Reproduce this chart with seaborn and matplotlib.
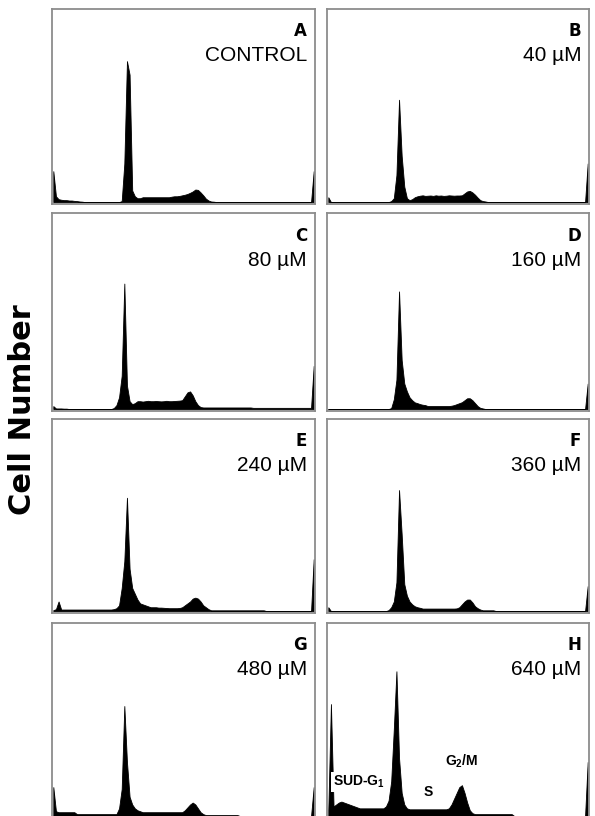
import numpy as np
import pandas as pd
import matplotlib
matplotlib.use('Agg')
import matplotlib.pyplot as plt
import seaborn as sns

# DNA content histograms (channel 0-99), heights in % of panel height
channels = np.arange(100) + 0.5

a_counts = [16, 3, 1.5, 1.2, 1, 1, 0.8, 0.8, 0.6, 0.5,
            0.3, 0.2, 0, 0, 0, 0, 0, 0, 0, 0,
            0, 0, 0, 0, 0, 0, 0.5, 20, 73, 66,
            6, 3, 2, 2, 2.5, 2.5, 2.5, 2.5, 2.5, 2.5,
            2.5, 2.5, 2.5, 2.5, 2.5, 2.8, 3, 3, 3.2, 3.5,
            3.8, 4.2, 4.8, 5.5, 6.5, 6.3, 5, 3.5, 1.8, 0.8,
            0.3, 0.2, 0, 0, 0, 0, 0, 0, 0, 0,
            0, 0, 0, 0, 0, 0, 0, 0, 0, 0,
            0, 0, 0, 0, 0, 0, 0, 0, 0, 0,
            0, 0, 0, 0, 0, 0, 0, 0, 0, 16]

b_counts = [2.5, 0, 0, 0, 0, 0, 0, 0, 0, 0,
            0, 0, 0, 0, 0, 0, 0, 0, 0, 0,
            0, 0, 0, 0, 0.5, 2, 14, 53, 24, 8,
            2, 1, 1.5, 2.5, 3, 3.3, 3.5, 3.2, 3.3, 3.4,
            3.2, 3.5, 3.3, 3.4, 3.2, 3.3, 3.5, 3.4, 3.3, 3.4,
            3.4, 3.5, 4.5, 5.5, 5.8, 5, 3.8, 2.3, 1, 0.5,
            0.3, 0, 0, 0, 0, 0, 0, 0, 0, 0,
            0, 0, 0, 0, 0, 0, 0, 0, 0, 0,
            0, 0, 0, 0, 0, 0, 0, 0, 0, 0,
            0, 0, 0, 0, 0, 0, 0, 0, 0, 20]

c_counts = [1.5, 0.3, 0.3, 0.3, 0.2, 0.2, 0, 0, 0, 0,
            0, 0, 0, 0, 0, 0, 0, 0, 0, 0,
            0, 0, 0, 0.5, 2, 6, 17, 64, 12, 4,
            2.5, 3, 4, 4, 3.8, 4, 4.2, 4, 4, 4.1,
            4, 3.9, 4, 4.2, 4, 4, 4.1, 4.2, 4.3, 4.5,
            6.5, 8.5, 9, 7, 4, 2, 1, 0.8, 0.8, 0.8,
            0.8, 0.8, 0.8, 0.8, 0.8, 0.8, 0.8, 0.8, 0.8, 0.8,
            0.8, 0.8, 0.8, 0.8, 0.8, 0.8, 0.6, 0.6, 0.6, 0.6,
            0.6, 0.6, 0.6, 0.6, 0.6, 0.6, 0.6, 0.6, 0.6, 0.6,
            0.6, 0.6, 0.6, 0.6, 0.6, 0.6, 0.6, 0.6, 0.6, 22]

d_counts = [0, 0, 0, 0, 0, 0, 0, 0, 0, 0,
            0, 0, 0, 0, 0, 0, 0, 0, 0, 0,
            0, 0, 0, 0, 0.5, 5, 15, 60, 25, 13,
            9, 6, 4.5, 3.4, 3, 2.5, 2.2, 2, 1.5, 1.5,
            1.5, 1.5, 1.5, 1.5, 1.5, 1.5, 1.5, 1.7, 2, 2.5,
            3, 3.5, 4.5, 5.5, 5.5, 4.5, 3, 1.5, 0.6, 0.3,
            0, 0, 0, 0, 0, 0, 0, 0, 0, 0,
            0, 0, 0, 0, 0, 0, 0, 0, 0, 0,
            0, 0, 0, 0, 0, 0, 0, 0, 0, 0,
            0, 0, 0, 0, 0, 0, 0, 0, 0, 13]

e_counts = [0.5, 1, 5, 0.8, 0.8, 0.8, 0.8, 0.8, 0.8, 0.8,
            0.8, 0.8, 0.8, 0.8, 0.8, 0.8, 0.8, 0.8, 0.8, 0.8,
            0.8, 0.8, 0.8, 1, 1.5, 3, 12, 26, 59, 22,
            12, 9, 6, 4, 3.5, 3, 2.5, 2, 2, 2,
            1.8, 1.8, 1.7, 1.6, 1.5, 1.5, 1.5, 1.5, 1.6, 2,
            3, 4, 5, 6.5, 7, 6.5, 5, 3, 2, 1,
            0.4, 0.4, 0.4, 0.4, 0.4, 0.4, 0.4, 0.4, 0.4, 0.4,
            0.4, 0.4, 0.4, 0.4, 0.4, 0.4, 0.4, 0.4, 0.4, 0.4,
            0.4, 0, 0, 0, 0, 0, 0, 0, 0, 0,
            0, 0, 0, 0, 0, 0, 0, 0, 0, 27]

f_counts = [2, 0, 0, 0, 0, 0, 0, 0, 0, 0,
            0, 0, 0, 0, 0, 0, 0, 0, 0, 0,
            0, 0, 0, 0.5, 2, 5, 15, 63, 40, 14,
            8, 5, 3.5, 2.5, 2, 1.7, 1.3, 1.3, 1.3, 1.3,
            1.3, 1.3, 1.3, 1.3, 1.3, 1.3, 1.3, 1.3, 1.3, 1.4,
            2, 3.5, 5, 6, 6, 4.5, 2.5, 1.5, 0.8, 0.4,
            0.4, 0.4, 0.4, 0.4, 0, 0, 0, 0, 0, 0,
            0, 0, 0, 0, 0, 0, 0, 0, 0, 0,
            0, 0, 0, 0, 0, 0, 0, 0, 0, 0,
            0, 0, 0, 0, 0, 0, 0, 0, 0, 13]

g_counts = [15, 2.5, 2, 2, 2, 2, 2, 2, 2, 1,
            1, 1, 1, 1, 1, 1, 1, 1, 1, 1,
            1, 1, 1, 1, 1, 4, 14, 57, 28, 10,
            6, 4, 3, 2.5, 2, 2, 2, 2, 2, 2,
            2, 2, 2, 2, 2, 2, 2, 2, 2, 2,
            3, 4.5, 6, 7, 6, 4, 2, 1, 0.5, 0.5,
            0.5, 0.5, 0.5, 0.5, 0.5, 0.5, 0.5, 0.5, 0.5, 0.5,
            0.5, 0, 0, 0, 0, 0, 0, 0, 0, 0,
            0, 0, 0, 0, 0, 0, 0, 0, 0, 0,
            0, 0, 0, 0, 0, 0, 0, 0, 0, 15]

h_counts = [3, 58, 5, 6, 7, 7.5, 7, 6.5, 6, 5.5,
            5, 4.5, 4, 4, 4, 4, 4, 4, 4, 4,
            4, 4, 5, 8, 18, 45, 75, 30, 12, 6,
            4, 3.5, 3.5, 3.5, 3.5, 3.5, 3.5, 3.5, 3.5, 3.5,
            3.5, 3.5, 3.5, 3.5, 3.5, 3.5, 4, 6, 9, 12,
            15, 16, 12, 7, 3, 1.5, 1, 1, 1, 1,
            1, 1, 1, 1, 1, 1, 1, 1, 1, 1,
            1, 0, 0, 0, 0, 0, 0, 0, 0, 0,
            0, 0, 0, 0, 0, 0, 0, 0, 0, 0,
            0, 0, 0, 0, 0, 0, 0, 0, 0, 28]

panel_letters = ['A', 'B', 'C', 'D', 'E', 'F', 'G', 'H']
doses = ['CONTROL', '40 µM', '80 µM', '160 µM', '240 µM', '360 µM', '480 µM', '640 µM']
all_counts = [a_counts, b_counts, c_counts, d_counts, e_counts, f_counts, g_counts, h_counts]

sns.set_style('white')
plt.rcParams['font.family'] = ['Liberation Sans', 'DejaVu Sans']
plt.rcParams['text.color'] = 'black'
plt.rcParams['mathtext.fontset'] = 'custom'
plt.rcParams['mathtext.rm'] = 'Liberation Sans'
plt.rcParams['mathtext.bf'] = 'Liberation Sans:bold'

fig = plt.figure(figsize=(5.95, 8.16), dpi=100)

col_left = [52, 327]
col_width = [263, 262]
row_top = [9, 213, 419, 623]
row_bot = [204, 411, 613, 818]

for i in range(8):
    r, c = i // 2, i % 2
    ax = fig.add_axes([col_left[c] / 595, 1 - row_bot[r] / 816,
                       col_width[c] / 595, (row_bot[r] - row_top[r]) / 816])
    df = pd.DataFrame({'channel': channels, 'count': all_counts[i]})
    sns.histplot(data=df, x='channel', weights='count', binwidth=1, binrange=(0, 100),
                 element='poly', fill=True, color='black', alpha=1, linewidth=0.6,
                 edgecolor='black', ax=ax)
    ax.set_xlim(0, 100)
    ax.set_ylim(-1, 100)
    ax.set_xticks([])
    ax.set_yticks([])
    ax.set_xlabel('')
    ax.set_ylabel('')
    for sp in ax.spines.values():
        sp.set_color('#8c8c8c')
        sp.set_linewidth(1.3)
    if r == 3:
        ax.spines['bottom'].set_visible(False)
    ax.text(0.97, 0.885, panel_letters[i], transform=ax.transAxes, ha='right', va='center',
            fontsize=12, fontweight='bold', family='DejaVu Sans')
    ax.text(0.97, 0.76, doses[i], transform=ax.transAxes, ha='right', va='center',
            fontsize=15)
    if i == 7:
        box = dict(facecolor='white', edgecolor='none', pad=1.5)
        ax.text(0.023, 0.185, r'SUD-G$_\mathbf{1}$', transform=ax.transAxes, ha='left',
                va='center', fontsize=10, fontweight='bold', bbox=box)
        ax.text(0.385, 0.133, 'S', transform=ax.transAxes, ha='center', va='center',
                fontsize=10, fontweight='bold', bbox=box)
        ax.text(0.45, 0.29, r'G$_\mathbf{2}$/M', transform=ax.transAxes, ha='left',
                va='center', fontsize=10, fontweight='bold', bbox=box)

fig.text(0.037, 0.4975, 'Cell Number', rotation=90, ha='center', va='center',
         fontsize=22, fontweight='bold', family='DejaVu Sans', color='black')

fig.savefig('out.png', dpi=100)
